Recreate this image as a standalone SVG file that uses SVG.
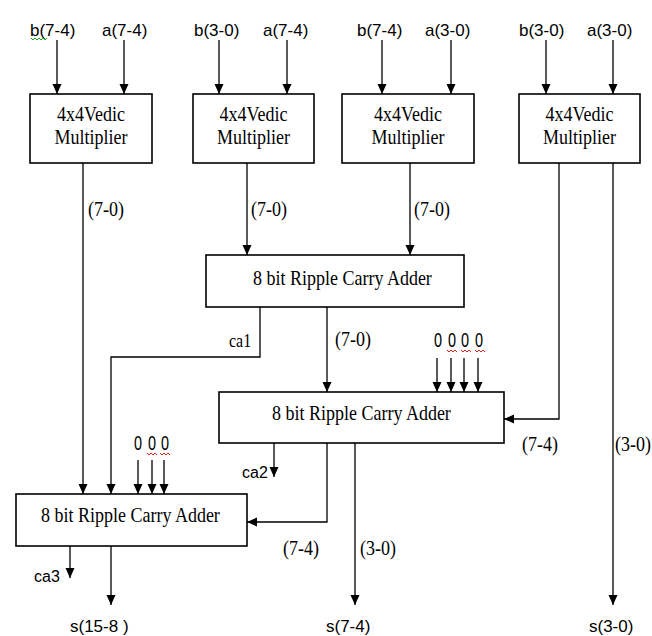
<svg xmlns="http://www.w3.org/2000/svg" width="652" height="636" viewBox="0 0 652 636">
<style>
.box{fill:#fff;stroke:#000;stroke-width:1.6}
.ln{fill:none;stroke:#000;stroke-width:1.3}
.ar{marker-end:url(#ah)}
.serif{font-family:"Liberation Serif","Times New Roman","DejaVu Serif",serif;font-size:18px;fill:#000}
.ser16{font-family:"Liberation Serif","Times New Roman","DejaVu Serif",serif;font-size:16px;fill:#000}
.sans{font-family:"Liberation Sans",Arial,sans-serif;font-size:17px;fill:#000}
.sans16{font-family:"Liberation Sans",Arial,sans-serif;font-size:16px;fill:#000}
.mid{text-anchor:middle}
.sqr{fill:none;stroke:#e02020;stroke-width:1}
.sqg{fill:none;stroke:#20a020;stroke-width:1}
</style>
<defs>
<marker id="ah" markerUnits="userSpaceOnUse" markerWidth="10" markerHeight="10" refX="10" refY="4.5" orient="auto">
<path d="M0,0 L10,4.5 L0,9 z" fill="#000"/>
</marker>
</defs>
<rect width="652" height="636" fill="#fff"/>

<g id="inputs">
<text class="sans" x="30" y="36">b(7-4)</text>
<text class="sans" x="102" y="36">a(7-4)</text>
<text class="sans" x="194" y="36">b(3-0)</text>
<text class="sans" x="263" y="36">a(7-4)</text>
<text class="sans" x="357" y="36">b(7-4)</text>
<text class="sans" x="425" y="36">a(3-0)</text>
<text class="sans" x="519" y="36">b(3-0)</text>
<text class="sans" x="587" y="36">a(3-0)</text>
<polyline class="sqg" points="31,38 33,40 35,38 37,40 39,38 41,40 43,38 45,40 47,38"/>
</g>

<g id="connectors">
<line class="ln ar" x1="57" y1="40" x2="57" y2="94"/>
<line class="ln ar" x1="124" y1="40" x2="124" y2="94"/>
<line class="ln ar" x1="219" y1="40" x2="219" y2="94"/>
<line class="ln ar" x1="287" y1="40" x2="287" y2="94"/>
<line class="ln ar" x1="382" y1="40" x2="382" y2="94"/>
<line class="ln ar" x1="451" y1="40" x2="451" y2="94"/>
<line class="ln ar" x1="546" y1="40" x2="546" y2="94"/>
<line class="ln ar" x1="613" y1="40" x2="613" y2="94"/>

<line class="ln ar" x1="83" y1="163" x2="83" y2="494"/>
<line class="ln ar" x1="247" y1="163" x2="247" y2="255"/>
<line class="ln ar" x1="410" y1="163" x2="410" y2="255"/>
<polyline class="ln ar" points="559,163 559,419 504,419"/>
<line class="ln ar" x1="613" y1="163" x2="613" y2="605"/>

<polyline class="ln ar" points="260,307 260,357 111,357 111,494"/>
<line class="ln ar" x1="327" y1="307" x2="327" y2="392"/>
<line class="ln ar" x1="437" y1="358" x2="437" y2="392"/>
<line class="ln ar" x1="451" y1="358" x2="451" y2="392"/>
<line class="ln ar" x1="464" y1="358" x2="464" y2="392"/>
<line class="ln ar" x1="478" y1="358" x2="478" y2="392"/>

<line class="ln ar" x1="274" y1="443" x2="274" y2="477"/>
<polyline class="ln ar" points="327,443 327,522 247,522"/>
<line class="ln ar" x1="355" y1="443" x2="355" y2="605"/>
<line class="ln ar" x1="138" y1="460" x2="138" y2="494"/>
<line class="ln ar" x1="152" y1="460" x2="152" y2="494"/>
<line class="ln ar" x1="164" y1="460" x2="164" y2="494"/>

<line class="ln ar" x1="70" y1="546" x2="70" y2="578"/>
<line class="ln ar" x1="111" y1="546" x2="111" y2="605"/>
</g>

<g id="mul1">
<rect class="box" x="30" y="94" width="122" height="69"/>
<text class="serif mid" transform="translate(91,121) scale(1,1.17)">4x4Vedic</text>
<text class="serif mid" transform="translate(91,144) scale(1,1.17)">Multiplier</text>
</g>
<g id="mul2">
<rect class="box" x="193" y="94" width="121" height="69"/>
<text class="serif mid" transform="translate(253.5,121) scale(1,1.17)">4x4Vedic</text>
<text class="serif mid" transform="translate(253.5,144) scale(1,1.17)">Multiplier</text>
</g>
<g id="mul3">
<rect class="box" x="342" y="94" width="132" height="69"/>
<text class="serif mid" transform="translate(408,121) scale(1,1.17)">4x4Vedic</text>
<text class="serif mid" transform="translate(408,144) scale(1,1.17)">Multiplier</text>
</g>
<g id="mul4">
<rect class="box" x="519" y="94" width="121" height="69"/>
<text class="serif mid" transform="translate(579.5,121) scale(1,1.17)">4x4Vedic</text>
<text class="serif mid" transform="translate(579.5,144) scale(1,1.17)">Multiplier</text>
</g>

<g id="rca1">
<rect class="box" x="206" y="255" width="258" height="52"/>
<text class="serif" transform="translate(253,285) scale(1,1.17)">8 bit Ripple Carry Adder</text>
</g>
<g id="rca2">
<rect class="box" x="219" y="392" width="285" height="51"/>
<text class="serif" transform="translate(272,420) scale(1,1.17)">8 bit Ripple Carry Adder</text>
</g>
<g id="rca3">
<rect class="box" x="16" y="494" width="231" height="52"/>
<text class="serif" transform="translate(41,522) scale(1,1.17)">8 bit Ripple Carry Adder</text>
</g>

<g id="labels">
<text class="serif" transform="translate(88,216) scale(1,1.17)">(7-0)</text>
<text class="serif" transform="translate(251,216) scale(1,1.17)">(7-0)</text>
<text class="serif" transform="translate(414,216) scale(1,1.17)">(7-0)</text>
<text class="ser16" transform="translate(229,347) scale(1,1.17)">ca1</text>
<text class="serif" transform="translate(335,346) scale(1,1.17)">(7-0)</text>
<text class="sans mid" transform="translate(438,347) scale(0.85,1.15)">0</text>
<text class="sans mid" transform="translate(452,347) scale(0.85,1.15)">0</text>
<text class="sans mid" transform="translate(465,347) scale(0.85,1.15)">0</text>
<text class="sans mid" transform="translate(479,347) scale(0.85,1.15)">0</text>
<polyline class="sqr" points="447,350 449,352 451,350 453,352 455,350 457,352"/>
<polyline class="sqr" points="461,350 463,352 465,350 467,352 469,350 471,352"/>
<polyline class="sqr" points="475,350 477,352 479,350 481,352 483,350 485,352"/>
<text class="serif" transform="translate(522,451) scale(1,1.17)">(7-4)</text>
<text class="serif" transform="translate(615,451) scale(1,1.17)">(3-0)</text>
<text class="sans16" x="242" y="478">ca2</text>
<text class="sans mid" transform="translate(138,450) scale(0.85,1.15)">0</text>
<text class="sans mid" transform="translate(152,450) scale(0.85,1.15)">0</text>
<text class="sans mid" transform="translate(165,450) scale(0.85,1.15)">0</text>
<polyline class="sqr" points="147,453 149,455 151,453 153,455 155,453 157,455"/>
<polyline class="sqr" points="160,453 162,455 164,453 166,455 168,453 170,455"/>
<text class="serif" transform="translate(283,555) scale(1,1.17)">(7-4)</text>
<text class="serif" transform="translate(360,555) scale(1,1.17)">(3-0)</text>
<text class="sans16" x="34" y="582">ca3</text>
<text class="sans" x="70" y="632">s(15-8 )</text>
<text class="sans" x="326" y="632">s(7-4)</text>
<text class="sans" x="589" y="632">s(3-0)</text>
</g>
</svg>
